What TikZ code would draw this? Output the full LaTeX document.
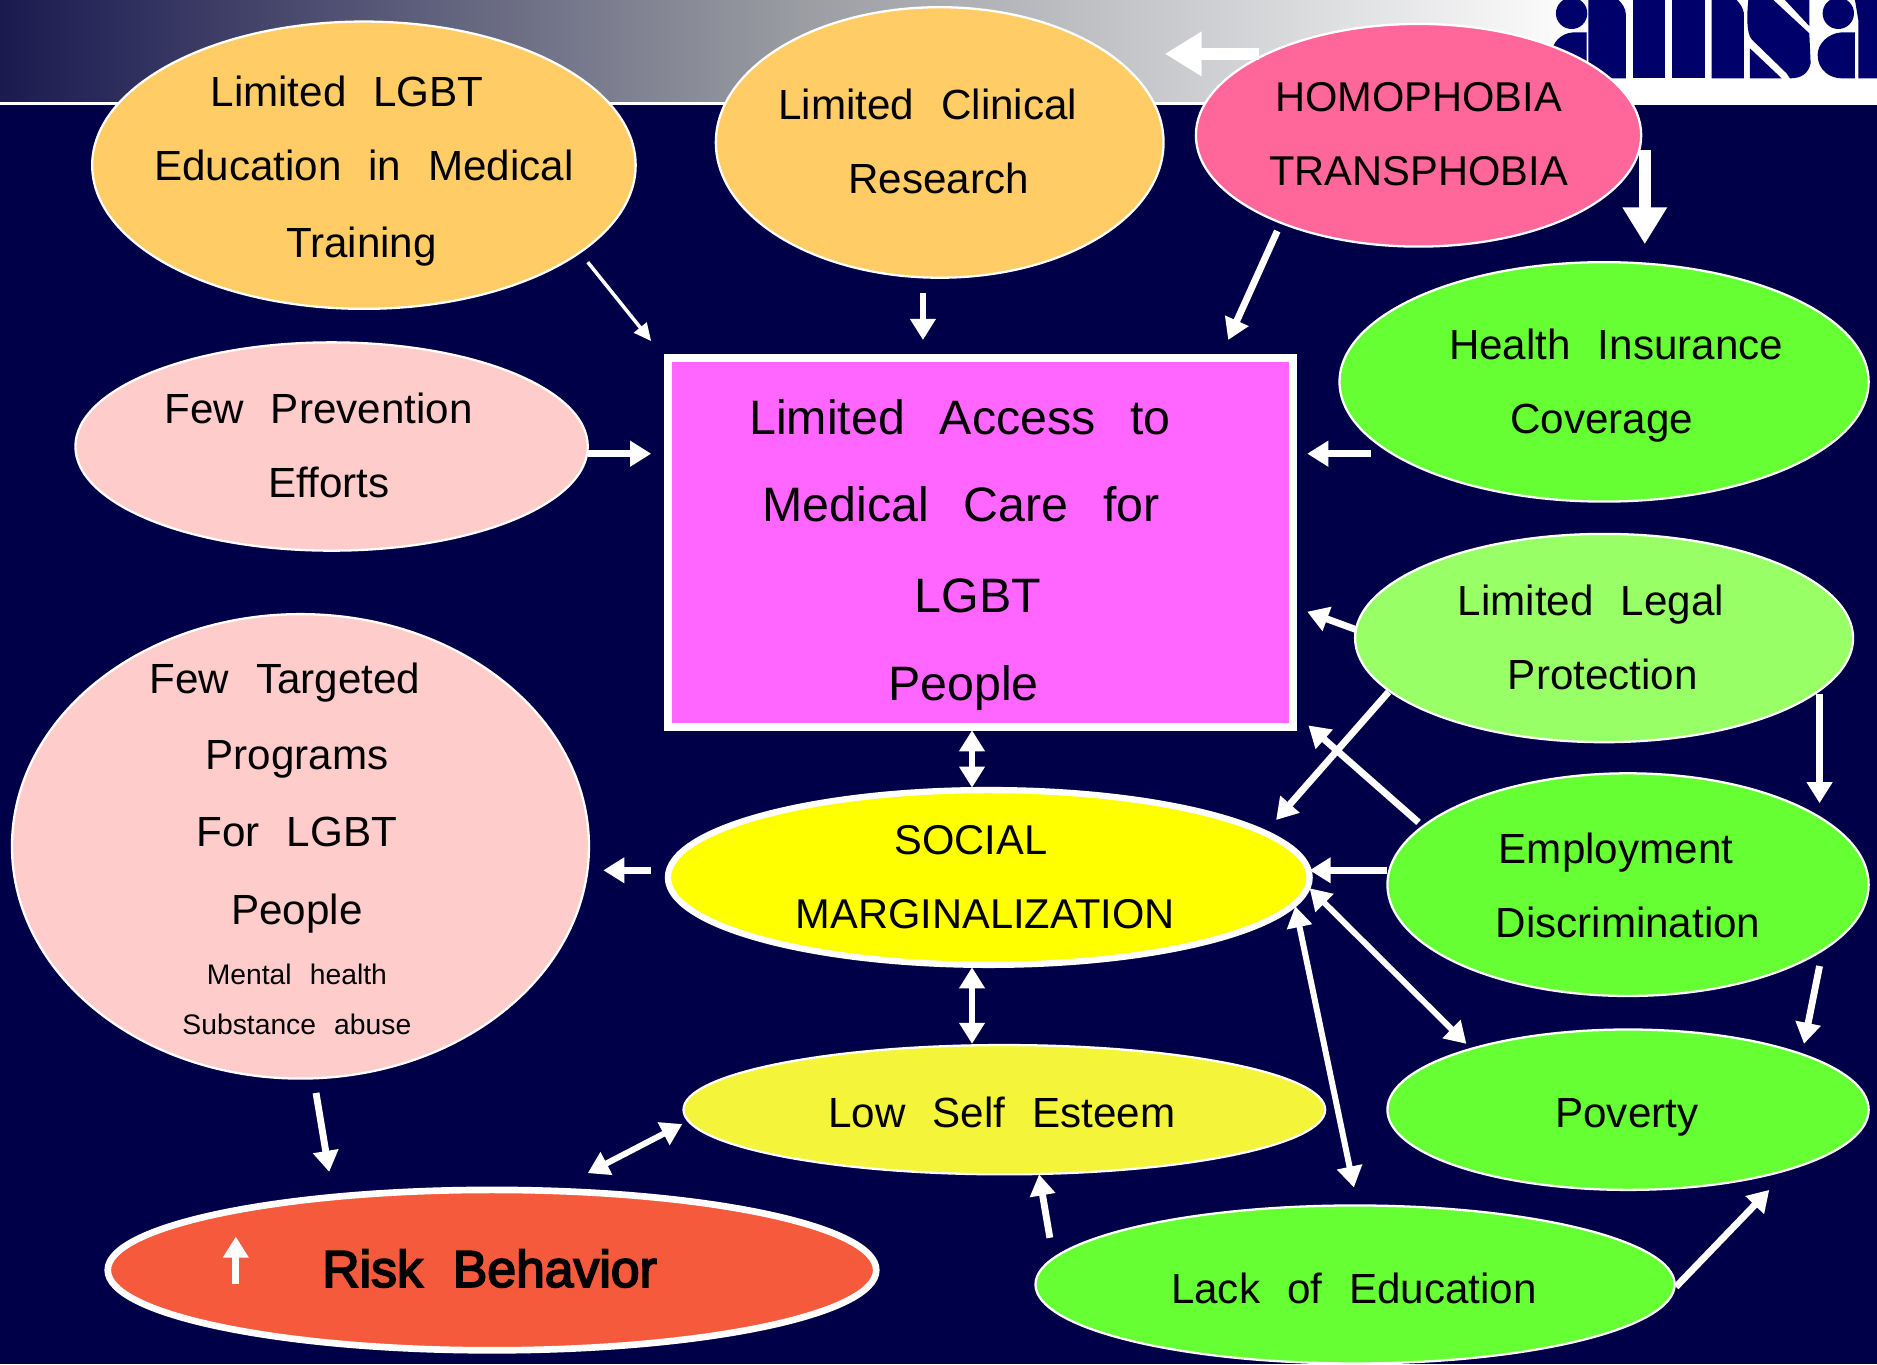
\documentclass[tikz,border=0pt]{standalone}
\usepackage{fontspec}
\setmainfont[WordSpace=2.3]{Liberation Sans}
\newfontfamily\bigfont[WordSpace=2.6]{Liberation Sans}
\newfontfamily\riskfont[WordSpace=2.1,FakeBold=3.5]{Liberation Sans}
\usetikzlibrary{shapes.geometric,arrows.meta}
\definecolor{navy}{HTML}{000048}
\definecolor{headdark}{HTML}{1A1A50}
\definecolor{headmid}{HTML}{9A9CA2}
\definecolor{logoblue}{HTML}{00006A}
\definecolor{corange}{HTML}{FFCC66}
\definecolor{chot}{HTML}{FF6699}
\definecolor{cgreen}{HTML}{66FF33}
\definecolor{clgreen}{HTML}{99FF66}
\definecolor{cpink}{HTML}{FFCCCC}
\definecolor{cmag}{HTML}{FF66FF}
\definecolor{cyel}{HTML}{FFFF00}
\definecolor{cself}{HTML}{F4F43A}
\definecolor{crisk}{HTML}{F55A3C}
\def\U{0.023941cm}
\tikzset{
  x=0.023941cm,y=-0.023941cm,
  blob/.style={ellipse,draw=white,line width=1.3pt,inner sep=0pt,outer sep=0pt},
  txt/.style={anchor=base,text=black,inner sep=0pt,font=\fontsize{24pt}{28pt}\selectfont},
  txtcaps/.style={txt,font=\fontsize{23.7pt}{28pt}\selectfont},
  txtbig/.style={txt,font=\bigfont\fontsize{27.5pt}{32pt}\selectfont},
  txtsmall/.style={txt,font=\fontsize{16.1pt}{18pt}\selectfont},
  txtrisk/.style={txt,font=\riskfont\fontsize{29.4pt}{34pt}\selectfont},
  thin arrow/.style={draw=white,line width=2pt,-{Triangle[length=10pt,width=9pt]}},
  mid arrow/.style={draw=white,line width=3.9pt,-{Triangle[length=12pt,width=14pt]}},
  fat arrow/.style={draw=white,line width=6.5pt,-{Triangle[length=21pt,width=24pt]}},
  both arrow/.style={draw=white,line width=3.4pt,{Triangle[length=12pt,width=14pt]}-{Triangle[length=12pt,width=14pt]}},
}
\newcommand{\blobnode}[7]{% name, x, y, rx, ry, fill, extra
  \node[blob,fill=#6,minimum width=2*#4*\U,minimum height=2*#5*\U,#7] (#1) at (#2,#3) {};}
\begin{document}
\begin{tikzpicture}
\useasboundingbox (0,0) rectangle (1568,1139.5);
\fill[navy] (0,0) rectangle (1568,1139.5);
\shade[left color=headdark,right color=white,middle color=headmid] (0,0) rectangle (1330,85);
\fill[white] (1330,0) rectangle (1568,85);
\fill[white] (0,85) rectangle (1568,88);
% cropped logo, drawn as shapes (units: one third of a reference pixel, from x = 1540 px)
\begin{scope}[shift={(1286.4,0)},x=0.0066667cm,y=-0.0066667cm]
  \clip (0,0) rectangle (1011,250);
  \fill[logoblue] (95,40) circle (47);
  \fill[logoblue] (140,97) -- (100,97) .. controls (60,100) and (35,130) .. (35,165) .. controls (35,210) and (70,235) .. (100,235) -- (140,235) -- cycle;
  \fill[logoblue] (145,235) -- (258,235) -- (258,45) .. controls (258,25) and (245,8) .. (235,0) -- (145,0) -- cycle;
  \fill[logoblue] (280,0) rectangle (375,235);
  \fill[logoblue] (395,0) rectangle (495,235);
  \fill[logoblue] (515,235) -- (612,235) -- (612,40) .. controls (610,25) and (600,10) .. (590,0) -- (515,0) -- cycle;
  \fill[logoblue] (625,0) -- (700,0) -- (808,100) -- (812,190) .. controls (805,220) and (785,235) .. (750,235) -- (740,220) -- (635,118) .. controls (620,100) and (620,50) .. (625,0) -- cycle;
  \fill[logoblue] (735,0) -- (808,0) -- (808,78) -- cycle;
  \fill[logoblue] (630,145) -- (725,235) -- (630,235) -- cycle;
  \fill[logoblue] (895,40) circle (47);
  \fill[logoblue] (945,97) -- (905,97) .. controls (865,100) and (833,130) .. (833,165) .. controls (833,210) and (870,235) .. (905,235) -- (945,235) -- cycle;
  \fill[logoblue] (955,235) -- (1011,235) -- (1011,0) -- (945,0) -- (955,60) -- cycle;
\end{scope}
% ovals
\blobnode{edu}{304}{138}{227}{120}{corange}{}
\blobnode{clin}{785}{119}{187}{113}{corange}{}
\blobnode{homo}{1185}{113}{186}{93}{chot}{}
\blobnode{ins}{1340}{319}{221}{100}{cgreen}{}
\blobnode{prev}{277}{373}{214}{87}{cpink}{}
\blobnode{legal}{1340}{533}{208}{87}{clgreen}{}
\blobnode{prog}{251}{707}{241}{194}{cpink}{}
\blobnode{soc}{826}{733}{268}{73}{cyel}{line width=3.6pt}
\blobnode{emp}{1360}{739}{201}{93}{cgreen}{}
\blobnode{self}{839}{927}{268}{54}{cself}{}
\blobnode{pov}{1360}{927}{201}{67}{cgreen}{}
\blobnode{risk}{411}{1061}{321}{67}{crisk}{line width=3.8pt}
\blobnode{lack}{1132}{1073}{267}{66}{cgreen}{}
\node[draw=white,fill=cmag,line width=4.4pt,inner sep=0pt,outer sep=0pt,minimum width=522*\U,minimum height=308*\U] (care) at (819,453) {};
% texts
\node[txt] (t1) at (290,89) {Limited LGBT};
\node[txt] (t2) at (304,151) {Education in Medical};
\node[txt] (t3) at (302,215) {Training};
\node[txt] (t4) at (775,100) {Limited Clinical};
\node[txt] (t5) at (784,162) {Research};
\node[txtcaps] (t6) at (1185,93) {HOMOPHOBIA};
\node[txtcaps] (t7) at (1185,155) {TRANSPHOBIA};
\node[txt] (t8) at (1350,300) {Health Insurance};
\node[txt] (t9) at (1338,362) {Coverage};
\node[txt] (t10) at (266,354) {Few Prevention};
\node[txt] (t11) at (275,416) {Efforts};
\node[txtbig] (t12) at (802,363) {Limited Access to};
\node[txtbig] (t13) at (803,436) {Medical Care for};
\node[txtbig] (t14) at (817,512) {LGBT};
\node[txtbig] (t15) at (805,585) {People};
\node[txt] (t16) at (1329,514) {Limited Legal};
\node[txt] (t17) at (1339,576) {Protection};
\node[txt] (t18) at (238,579) {Few Targeted};
\node[txt] (t19) at (248,643) {Programs};
\node[txt] (t20) at (248,707) {For LGBT};
\node[txt] (t21) at (248,772) {People};
\node[txtsmall] (t22) at (248,822) {Mental health};
\node[txtsmall] (t23) at (248,864) {Substance abuse};
\node[txtcaps] (t24) at (811,714) {SOCIAL};
\node[txtcaps] (t25) at (823,776) {MARGINALIZATION};
\node[txt] (t26) at (1350,721) {Employment};
\node[txt] (t27) at (1360,783) {Discrimination};
\node[txt] (t28) at (837,942) {Low Self Esteem};
\node[txt] (t29) at (1359,942) {Poverty};
\node[txt] (t30) at (1131,1089) {Lack of Education};
\node[txtrisk] (t31) at (409,1075) {Risk Behavior};
% connector ends
\coordinate (a1) at (491,219);   \coordinate (b1) at (544,285);
\coordinate (a2) at (771,245);   \coordinate (b2) at (771,284);
\coordinate (a3) at (1067,193);  \coordinate (b3) at (1026,284);
\coordinate (a4) at (1052,45);   \coordinate (b4) at (973,45);
\coordinate (a5) at (1374,125);  \coordinate (b5) at (1374,204);
\coordinate (a6) at (491,379);   \coordinate (b6) at (544,379);
\coordinate (a7) at (1145,379);  \coordinate (b7) at (1092,379);
\coordinate (a8) at (1133,526);  \coordinate (b8) at (1092,511);
\coordinate (a9) at (1160,578);  \coordinate (b9) at (1066,685);
\coordinate (a10) at (1185,687); \coordinate (b10) at (1093,606);
\coordinate (a11) at (1520,580); \coordinate (b11) at (1520,671);
\coordinate (a12) at (1159,727); \coordinate (b12) at (1094,727);
\coordinate (a13) at (1520,807); \coordinate (b13) at (1507,872);
\coordinate (a14) at (1094,742); \coordinate (b14) at (1225,872);
\coordinate (a15) at (1082,757); \coordinate (b15) at (1131,992);
\coordinate (a16) at (877,1034); \coordinate (b16) at (868,981);
\coordinate (a17) at (1400,1075);\coordinate (b17) at (1478,994);
\coordinate (a18) at (570,939);  \coordinate (b18) at (491,980);
\coordinate (a19) at (812,808);  \coordinate (b19) at (812,872);
\coordinate (a20) at (812,610);  \coordinate (b20) at (812,658);
\coordinate (a21) at (544,727);  \coordinate (b21) at (504,727);
\coordinate (a22) at (264,913);  \coordinate (b22) at (275,979);
\coordinate (a23) at (197,1073); \coordinate (b23) at (197,1033);
% connectors
\draw[thin arrow] (a1) -- (b1);
\draw[mid arrow] (a2) -- (b2);
\draw[mid arrow] (a3) -- (b3);
\draw[fat arrow] (a4) -- (b4);
\draw[fat arrow] (a5) -- (b5);
\draw[mid arrow] (a6) -- (b6);
\draw[mid arrow] (a7) -- (b7);
\draw[mid arrow] (a8) -- (b8);
\draw[mid arrow] (a9) -- (b9);
\draw[mid arrow] (a10) -- (b10);
\draw[mid arrow] (a11) -- (b11);
\draw[mid arrow] (a12) -- (b12);
\draw[mid arrow] (a13) -- (b13);
\draw[both arrow] (a14) -- (b14);
\draw[both arrow] (a15) -- (b15);
\draw[mid arrow] (a16) -- (b16);
\draw[mid arrow] (a17) -- (b17);
\draw[both arrow] (a18) -- (b18);
\draw[both arrow] (a19) -- (b19);
\draw[both arrow] (a20) -- (b20);
\draw[mid arrow] (a21) -- (b21);
\draw[mid arrow] (a22) -- (b22);
\draw[mid arrow] (a23) -- (b23);
\end{tikzpicture}
\end{document}
